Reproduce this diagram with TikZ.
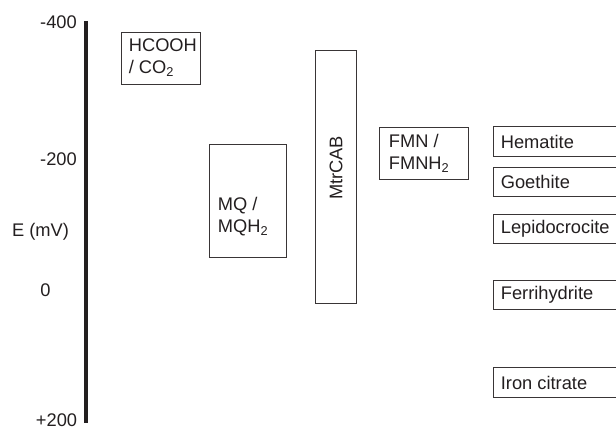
\documentclass[tikz,border=0pt]{standalone}
\usepackage{fontspec}
\setmainfont{Liberation Sans}
\usetikzlibrary{positioning}
\definecolor{ink}{HTML}{231F20}
\tikzset{
  box/.style={draw=ink!90, line width=0.6pt, inner sep=0pt},
  lbl/.style={text=ink, font=\fontsize{13}{15.6}\selectfont, align=left, inner sep=0pt},
}
\begin{document}
\begin{tikzpicture}[x=0.025cm, y=-0.025cm]
  \useasboundingbox (0,0) rectangle (616,431);
  \clip (0,0) rectangle (616,431);
  % Potential axis
  \coordinate (top) at (86,21);
  \coordinate (bot) at (86,423);
  \draw[ink, line width=3.2pt] (top) -- (bot);
  % Tick labels
  \foreach \y/\x/\l [count=\i] in {22/58.5/-400, 159/58.5/-200, 232/40.5/E (mV), 290/45.5/0, 420/56.5/+200}
    \node[lbl] (tick\i) at (\x,\y) {\l};

  % Redox couples
  \node[box, minimum width=1.975cm, minimum height=1.3cm] (hcooh) at (160.5,58) {};
  \node[lbl, right=0.2cm of hcooh.west] (hcooh-lbl) {HCOOH\\/ CO\textsubscript{2}};

  \node[box, minimum width=1.925cm, minimum height=2.825cm] (mq) at (247.5,200.5) {};
  \node[lbl, right=0.225cm of mq.west, yshift=-0.41cm] (mq-lbl) {MQ /\\MQH\textsubscript{2}};

  \node[box, minimum width=1.025cm, minimum height=6.325cm] (mtr) at (335.5,176.5) {};
  \node[lbl, rotate=90] (mtr-lbl) at (336,168) {MtrCAB};

  \node[box, minimum width=2.225cm, minimum height=1.3cm] (fmn) at (423.5,153) {};
  \node[lbl, right=0.25cm of fmn.west] (fmn-lbl) {FMN /\\FMNH\textsubscript{2}};

  % Iron(III) acceptors
  \foreach \y/\n/\l in {141.5/hem/Hematite, 182/goe/Goethite, 229/lep/Lepidocrocite, 295/fer/Ferrihydrite, 382.5/cit/Iron citrate} {
    \node[box, minimum width=3.25cm, minimum height=0.73cm] (\n) at (558,\y) {};
    \node[lbl, right=0.2cm of \n.west] (\n-lbl) {\l};
  }
\end{tikzpicture}
\end{document}
